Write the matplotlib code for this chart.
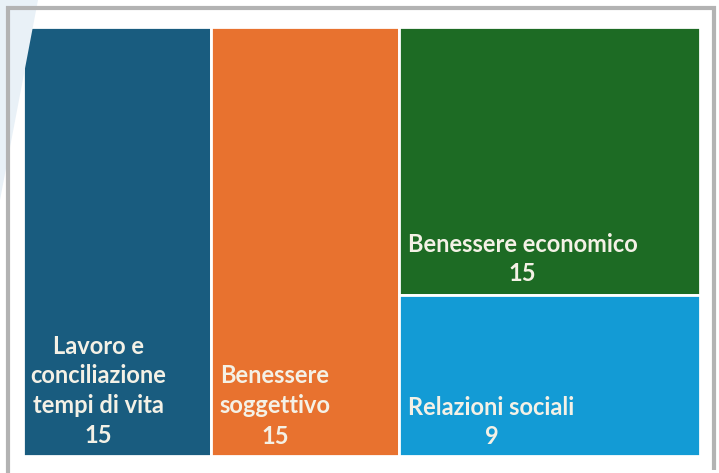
import matplotlib.pyplot as plt
from matplotlib.patches import Rectangle, Polygon
from matplotlib.lines import Line2D

# dati
categorie = ['Lavoro e\nconciliazione\ntempi di vita', 'Benessere\nsoggettivo',
             'Benessere economico', 'Relazioni sociali']
valori = [15, 15, 15, 9]
colori = ['#195c7f', '#e8722f', '#1d6b24', '#139bd5']

# posizione delle etichette (frazione del rettangolo) e spaziatura
pos_etichette = [(0.40, 0.152), (0.34, 0.117), (0.41, 0.135), (0.307, 0.21)]
spaziatura = [1.35, 1.4, 1.3, 1.3]


def layout(vals):
    # prime due colonne piene, le altre impilate nell'ultima colonna
    tot = sum(vals)
    rects = []
    x = 0
    for v in vals[:2]:
        w = v / tot
        rects.append((x, 0, w, 1))
        x += w
    resto = vals[2:]
    w = 1 - x
    y = 1
    for v in resto:
        h = v / sum(resto)
        y -= h
        rects.append((x, y, w, h))
    return rects


fig = plt.figure(figsize=(7.19, 4.73), dpi=100)
fig.patch.set_facecolor('white')

# decorazione azzurra a sinistra e cornice grigia
W, H = 719, 473
fig.patches.append(Polygon([(0, 1), (38 / W, 1), (0, 1 - 200 / H)], closed=True,
                           transform=fig.transFigure, facecolor='#e9f1f7',
                           edgecolor='none', zorder=0))
grigio = '#b3b3b3'
for xs, ys in [([8, 8], [6, 473]), ([6, 716], [8, 8]), ([714, 714], [6, 470])]:
    fig.add_artist(Line2D([x / W for x in xs], [1 - y / H for y in ys],
                          color=grigio, lw=3, solid_capstyle='butt'))

ax = fig.add_axes([23 / W, 17 / H, 677 / W, 429 / H])
ax.set_xlim(0, 1)
ax.set_ylim(0, 1)
ax.axis('off')

for (x, y, w, h), lab, v, c, (fx, fy), ls in zip(layout(valori), categorie, valori,
                                                   colori, pos_etichette, spaziatura):
    ax.add_patch(Rectangle((x, y), w, h, facecolor=c, edgecolor='white', lw=2))
    ax.text(x + fx * w, y + fy * h, f'{lab}\n{v}', ha='center', va='center',
            multialignment='center', color='#f4f1e6', fontsize=17,
            fontweight='bold', family='Lato', linespacing=ls)

fig.savefig('out.png', dpi=100)
